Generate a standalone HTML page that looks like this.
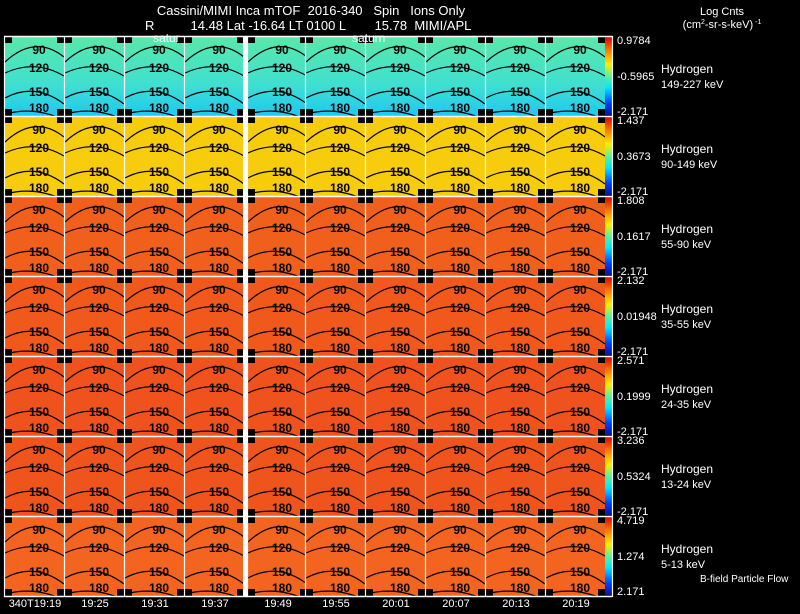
<!DOCTYPE html>
<html><head><meta charset="utf-8">
<style>
html,body{margin:0;padding:0;background:#000;}
body{width:800px;height:609px;overflow:hidden;font-family:"Liberation Sans",sans-serif;}
svg text{font-family:"Liberation Sans",sans-serif;}
</style></head>
<body>
<svg id="chart" width="800" height="609" viewBox="0 0 800 609" xmlns="http://www.w3.org/2000/svg">
<defs>
<linearGradient id="cbar" x1="0" y1="1" x2="0" y2="0">
<stop offset="0" stop-color="#1010a0"/><stop offset="0.15" stop-color="#0040ff"/>
<stop offset="0.35" stop-color="#00e8ff"/><stop offset="0.5" stop-color="#60f090"/>
<stop offset="0.65" stop-color="#f8f000"/><stop offset="0.82" stop-color="#ff8000"/>
<stop offset="1" stop-color="#e00000"/></linearGradient>
<linearGradient id="row1g" x1="0" y1="0" x2="0" y2="1">
<stop offset="0" stop-color="#5ae8a8"/><stop offset="0.6" stop-color="#40e0d0"/><stop offset="1" stop-color="#20c8f0"/></linearGradient>
</defs>
<text x="311" y="15" fill="#fff" font-size="13" text-anchor="middle" xml:space="preserve">Cassini/MIMI Inca mTOF  2016-340   Spin   Ions Only</text>
<text x="145" y="30" fill="#fff" font-size="13" xml:space="preserve">R          14.48 Lat -16.64 LT 0100 L        15.78  MIMI/APL</text>
<text x="722" y="15" fill="#fff" font-size="11" text-anchor="middle">Log Cnts</text>
<text x="722" y="28" fill="#fff" font-size="11" text-anchor="middle">(cm<tspan font-size="7" dy="-4">2</tspan><tspan dy="4">-sr-s-keV)</tspan><tspan font-size="7" dy="-4"> -1</tspan></text>
<g id="grid"></g>
<text x="153" y="42" fill="#fff" font-size="12">satur</text>
<text x="352" y="42" fill="#fff" font-size="12">saturn</text>
<text x="700" y="582" fill="#fff" font-size="10">B-field Particle Flow</text>
</svg>
<script>
const timeLabels=["340T19:19","19:25","19:31","19:37","19:49","19:55","20:01","20:07","20:13","20:19"];
const energies=["149-227 keV","90-149 keV","55-90 keV","35-55 keV","24-35 keV","13-24 keV","5-13 keV"];
const cbarTop=["0.9784","1.437","1.808","2.132","2.571","3.236","4.719"];
const cbarMid=["-0.5965","0.3673","0.1617","0.01948","0.1999","0.5324","1.274"];
const cbarBot=["-2.171","-2.171","-2.171","-2.171","-2.171","-2.171","2.171"];
const rowColors=["url(#row1g)","#f6cc0c","#f0601c","#f0581c","#ef521c","#ef541c","#f26420"];
const contourLabels=["90","120","150","180"];
const NS="http://www.w3.org/2000/svg";
const g=document.getElementById('grid');
function el(t,a,p){const e=document.createElementNS(NS,t);for(const k in a)e.setAttribute(k,a[k]);(p||g).appendChild(e);return e;}
const lefts=[5,65,125,185,248,306,366,426,486,546];
const pw=59,top0=36,rh=80;
const contours=[[26,14,21],[37,32,40],[62,56,68],[78,76,84]];
for(let r=0;r<7;r++){
  const y=top0+r*rh;
  for(let c=0;c<10;c++){
    const x=lefts[c];
    const p=el('rect',{x:x,y:y,width:pw,height:rh,fill:rowColors[r]});
    
    
    [[x,y],[x+pw-7,y],[x,y+rh-7],[x+pw-7,y+rh-7]].forEach(q=>{const k=el('rect',{x:q[0],y:q[1],width:7,height:7,fill:'#000'});});
    contours.forEach((o,i)=>{
      const path=el('path',{d:`M${x} ${y+o[0]} Q${x+30} ${y+2*o[1]-o[0]-4} ${x+pw} ${y+o[2]}`,fill:'none',stroke:'#000','stroke-width':1.2});
      
      
      const t=el('text',{x:x+34,y:y+o[1]+(i==3?0:4),'font-size':12,'font-weight':'bold','text-anchor':'middle',fill:'#000','font-family':'Liberation Serif'});
      
      
      t.textContent=contourLabels[i];
    });
  }
  const cb=el('rect',{x:605,y:y+1,width:7,height:rh-2,fill:'url(#cbar)'});
  
  
  [[cbarTop[r],y+8],[cbarMid[r],y+rh/2+4],[cbarBot[r],y+rh-1]].forEach(v=>{
    const t=el('text',{x:617,y:v[1],'font-size':11,fill:'#fff'});
    
    
    t.textContent=v[0];
  });
  const h=el('text',{x:661,y:y+37,'font-size':12,fill:'#fff'});
  
  
  h.textContent='Hydrogen';
  const e=el('text',{x:661,y:y+52,'font-size':11,fill:'#fff'});
  
  
  e.textContent=energies[r];
  const hl=el('line',{x1:4,x2:612,y1:y+0.5,y2:y+0.5,stroke:'#fff','stroke-width':1.5});
  
  
}
const bl=el('line',{x1:4,x2:612,y1:596.5,y2:596.5,stroke:'#fff','stroke-width':1.5});


lefts.forEach((x,c)=>{
  const v=el('line',{x1:x-0.5,x2:x-0.5,y1:36,y2:597,stroke:'#fff','stroke-width':1.2});
  
  
  const t=el('text',{x:x+30,y:607,'font-size':11,fill:'#fff','text-anchor':'middle'});
  
  
  t.textContent=timeLabels[c];
});
const gap=el('rect',{x:243,y:36,width:4,height:561,fill:'#fff'});


const rb=el('line',{x1:612.5,x2:612.5,y1:36,y2:597,stroke:'#fff','stroke-width':1.2});


</script>
</body></html>
